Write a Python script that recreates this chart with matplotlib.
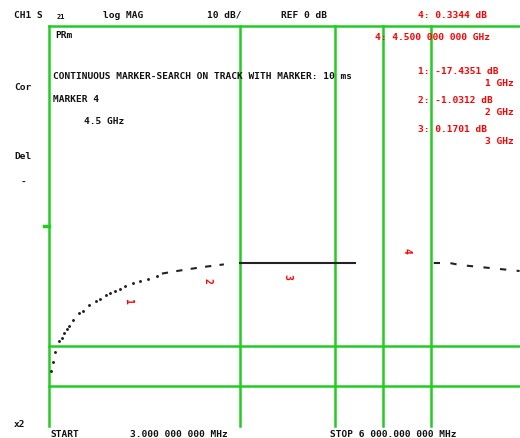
import matplotlib.pyplot as plt
import numpy as np

# trace (frequency GHz, level dB)
dot_f = [0.025, 0.05, 0.075, 0.126, 0.164, 0.189, 0.226, 0.25, 0.30, 0.377, 0.43,
         0.50, 0.59, 0.64, 0.72, 0.77, 0.83, 0.89, 0.96, 1.06, 1.14, 1.25, 1.36]
dot_db = [-36.25, -34.0, -31.5, -28.75, -28.0, -26.75, -25.75, -25.0, -23.5, -21.75, -21.25,
          -19.75, -18.75, -18.25, -17.25, -16.75, -16.25, -15.75, -15.0, -14.25, -13.75, -13.25, -12.5]
dash_f = [1.42, 1.61, 1.77, 1.94, 2.20]
dash_db = [-11.9, -11.25, -10.75, -10.25, -9.6]
solid_f = [2.40, 3.85]
solid_db = [-9.25, -9.25]
tail_f = [4.84, 5.04, 5.17, 5.42, 5.67, 5.92]
tail_db = [-9.25, -9.25, -9.75, -10.25, -10.75, -11.25]

# markers: label, frequency, label level
mk_names = ['1', '2', '3', '4']
mk_f = [1.0, 2.0, 3.0, 4.5]
mk_db = [-18.5, -13.5, -12.5, -6.0]
mk_text = ['1: -17.4351 dB', '2: -1.0312 dB', '3: 0.1701 dB']
mk_freq = ['1 GHz', '2 GHz', '3 GHz']

# graticule lines that are drawn
vlines = [0.0, 2.4, 3.6, 4.2, 4.8]
hlines = [50, -30, -40]

W, H = 520, 439
fig = plt.figure(figsize=(W / 100, H / 100), dpi=100)
fig.patch.set_facecolor('white')

x0, x1, y0, y1 = 49, 520, 27, 427
ax = fig.add_axes([x0 / W, 1 - y1 / H, (x1 - x0) / W, (y1 - y0) / H])
ax.set_xlim(0, 5.925)
ax.set_ylim(-50, 50)
ax.axis('off')

green = '#22cc22'
for v in vlines:
    ax.axvline(v, color=green, lw=1.8, clip_on=False)
for h in hlines:
    ax.axhline(h, color=green, lw=1.8, clip_on=False)
# reference tick on the left edge
ax.plot([-0.06, 0.0], [0, 0], color=green, lw=2.5, clip_on=False)

ax.plot(dot_f, dot_db, ls='none', marker='.', ms=2.2, color='#222222')
ax.plot(dash_f, dash_db, ls=(0, (3, 4)), lw=1.5, color='#222222')
ax.plot(solid_f, solid_db, lw=1.5, color='#222222')
ax.plot(tail_f, tail_db, ls=(0, (3, 5)), lw=1.5, color='#222222')

for n, f, d in zip(mk_names, mk_f, mk_db):
    ax.text(f, d, n, color='red', fontsize=7, fontweight='bold', rotation=-90,
            ha='center', va='center', family='DejaVu Sans Mono')

mono = dict(family='DejaVu Sans Mono', fontweight='bold', fontsize=6.8)


def put(x, y, s, color='#111111', ha='left', va='center'):
    fig.text(x / W, 1 - y / H, s, color=color, ha=ha, va=va, **mono)


put(14, 15, 'CH1 S')
fig.text(57 / W, 1 - 17 / H, '21', color='#111111', ha='left', va='center',
         family='DejaVu Sans Mono', fontweight='bold', fontsize=5)
put(103, 15, 'log MAG')
put(207, 15, '10 dB/')
put(281, 15, 'REF 0 dB')
put(418, 15, '4: 0.3344 dB', color='red')

put(55, 36, 'PRm')
put(375, 38, '4: 4.500 000 000 GHz', color='red')
put(53, 77, 'CONTINUOUS MARKER-SEARCH ON TRACK WITH MARKER: 10 ms')
put(53, 99, 'MARKER 4')
put(84, 122, '4.5 GHz')

for i, (t, fr) in enumerate(zip(mk_text, mk_freq)):
    put(418, 72 + 28.5 * i, t, color='red')
    put(514, 84 + 28.5 * i, fr, color='red', ha='right')

put(14, 88, 'Cor')
put(14, 157, 'Del')
put(21, 182, '-')
put(14, 425, 'x2')
put(50, 439, 'START', va='bottom')
put(130, 439, '3.000 000 000 MHz', va='bottom')
put(330, 439, 'STOP 6 000.000 000 MHz', va='bottom')

fig.savefig('out.png', dpi=100)
